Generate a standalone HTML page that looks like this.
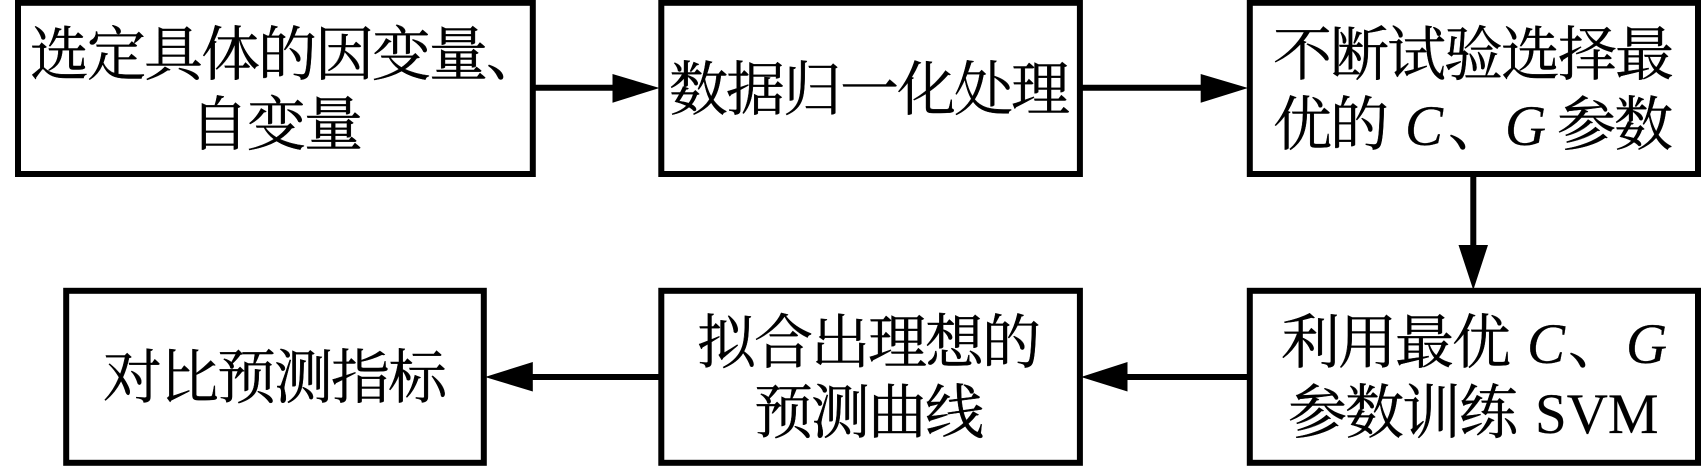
<!DOCTYPE html>
<html lang="zh">
<head>
<meta charset="utf-8">
<style>
html,body{margin:0;padding:0;background:#fff;width:1701px;height:466px;overflow:hidden}
svg{display:block}
text{font-family:"Liberation Serif","Noto Serif CJK SC",serif;font-size:59px;letter-spacing:-2px;fill:#000;stroke:#000;stroke-width:.4}
.i{font-style:italic;letter-spacing:0}
.l{font-size:57px;letter-spacing:0;stroke-width:.2}
rect{fill:#fff;stroke:#000;stroke-width:6}
line{stroke:#000;stroke-width:6}
</style>
</head>
<body>
<svg width="1701" height="466" viewBox="0 0 1701 466" xmlns="http://www.w3.org/2000/svg">
<rect x="18" y="2.8" width="514.8" height="171.2"/>
<rect x="661.3" y="2.8" width="418.6" height="171.2"/>
<rect x="1249.8" y="2.8" width="448.2" height="171.2"/>
<rect x="66.2" y="290.8" width="417.6" height="172"/>
<rect x="661.3" y="290.8" width="418.6" height="172"/>
<rect x="1249.8" y="290.8" width="448.2" height="172"/>

<line x1="535" y1="87.7" x2="620" y2="87.7"/>
<polygon points="612.5,74 659.5,88 612.5,102.7"/>
<line x1="1082" y1="87.7" x2="1208" y2="87.7"/>
<polygon points="1200.7,74 1248,88 1200.7,102.7"/>
<line x1="1473.3" y1="176" x2="1473.3" y2="250"/>
<polygon points="1458.5,245 1488,245 1473.3,290"/>
<line x1="1247" y1="377" x2="1120" y2="377"/>
<polygon points="1127.5,362 1081,377 1127.5,391.5"/>
<line x1="658.5" y1="377" x2="525" y2="377"/>
<polygon points="532.8,362 485,377 532.8,391.5"/>

<text x="30" y="75">选定具体的因变量、</text>
<text x="190" y="145">自变量</text>
<text x="669" y="110">数据归一化处理</text>
<text x="1273" y="75">不断试验选择最</text>
<text y="145"><tspan x="1273">优的</tspan><tspan x="1405" class="i l">C</tspan><tspan x="1448">、</tspan><tspan x="1505" class="i l">G</tspan><tspan x="1557">参数</tspan></text>
<text x="103" y="398">对比预测指标</text>
<text x="697" y="363">拟合出理想的</text>
<text x="754" y="433">预测曲线</text>
<text y="363"><tspan x="1281">利用最优</tspan><tspan x="1527" class="i l">C</tspan><tspan x="1568">、</tspan><tspan x="1626" class="i l">G</tspan></text>
<text y="433"><tspan x="1288">参数训练</tspan><tspan x="1535" class="l">SVM</tspan></text>
</svg>
</body>
</html>
